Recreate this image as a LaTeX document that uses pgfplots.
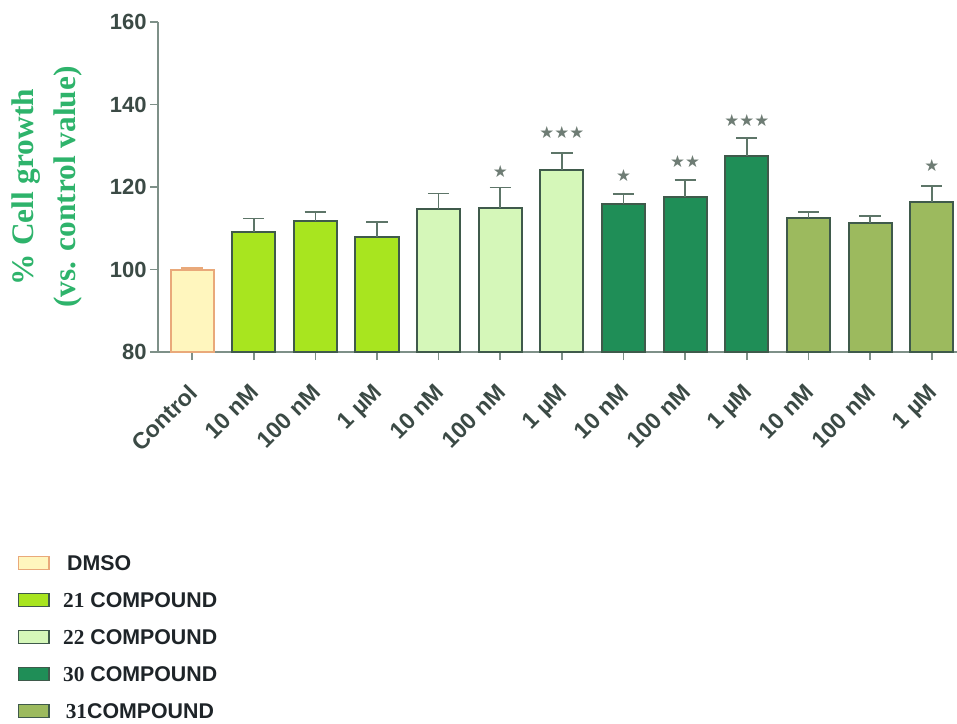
\documentclass[border=0pt]{standalone}
\usepackage{pgfplots}
\pgfplotsset{compat=1.18}
\usepackage{fontspec}
\setmainfont{Liberation Sans}
\newfontfamily\tnr{Liberation Serif}
\newfontfamily\dejavu{DejaVu Sans}

\definecolor{axisgray}{HTML}{7E9088}
\definecolor{ticktext}{HTML}{3B4A45}
\definecolor{edge}{HTML}{3F5A4B}
\definecolor{errcol}{HTML}{5D7568}
\definecolor{dmsofill}{HTML}{FFF6BE}
\definecolor{dmsoedge}{HTML}{E9A97A}
\definecolor{cA}{HTML}{A8E51F}
\definecolor{cB}{HTML}{D5F7B9}
\definecolor{cC}{HTML}{1F8E57}
\definecolor{cD}{HTML}{9CBA5E}
\definecolor{labgreen}{HTML}{2EB36B}
\definecolor{stargray}{HTML}{6E7C74}
\definecolor{legtext}{HTML}{1E2428}

\pgfplotsset{
  barstyle/.style={
    ybar, bar width=0.7, bar shift=0pt, line width=1.5pt,
    error bars/y dir=plus, error bars/y explicit,
    error bars/error bar style={line width=1.2pt, color=#1},
    error bars/error mark options={rotate=90, mark size=8pt, line width=1.2pt, color=#1},
  },
  boxlegend/.style={
    legend image code/.code={\draw[##1, line width=1.1pt] (0pt,-4.8pt) rectangle (23pt,4.8pt);}
  },
}

\begin{document}
\begin{tikzpicture}
\begin{axis}[
  scale only axis,
  width=599.25pt, height=247.5pt,
  xmin=-0.553, xmax=12.41,
  ymin=80, ymax=160,
  ytick={80,100,...,160},
  xtick={0,...,12},
  xticklabels={Control,10 nM,100 nM,1 µM,10 nM,100 nM,1 µM,10 nM,100 nM,1 µM,10 nM,100 nM,1 µM},
  axis lines=left,
  axis line style={-, color=axisgray, line width=1.3pt},
  tick style={color=axisgray, line width=1.2pt},
  tick align=outside,
  major tick length=6pt,
  /pgf/number format/assume math mode=true,
  yticklabel style={font=\bfseries\fontsize{16.5}{16.5}\selectfont, color=ticktext, xshift=1pt},
  xticklabel style={rotate=45, anchor=north east, font=\bfseries\fontsize{17.3}{17.3}\selectfont, color=ticktext, xshift=-11pt, yshift=-6pt},
  ylabel={\% Cell growth\\(vs. control value)},
  ylabel style={at={(axis description cs:-0.139,0.5)}, anchor=center, align=center,
    font=\tnr\bfseries\fontsize{23.5}{31}\selectfont, color=labgreen},
  clip=false,
  legend style={draw=none, fill=none, at={(axis description cs:-0.176,-0.615)}, anchor=north west,
    inner sep=0pt, row sep=16.3pt, font=\bfseries\fontsize{16}{16}\selectfont, text=legtext,
    cells={anchor=west}, nodes={inner sep=0pt, text height=11.5pt, text depth=0pt}},
  legend cell align=left,
]
% DMSO control
\addplot[barstyle=dmsoedge, boxlegend, fill=dmsofill, draw=dmsoedge]
  coordinates {(0,100) +- (0,0.3)};
\addlegendentry{\hspace{13pt}DMSO}
% compound 21
\addplot[barstyle=errcol, boxlegend, fill=cA, draw=edge]
  coordinates {(1,109.1) +- (0,3.3) (2,111.7) +- (0,2.3) (3,107.9) +- (0,3.6)};
\addlegendentry{\hspace{10pt}{\tnr 21} COMPOUND}
% compound 22
\addplot[barstyle=errcol, boxlegend, fill=cB, draw=edge]
  coordinates {(4,114.6) +- (0,3.8) (5,115.0) +- (0,4.9) (6,124.1) +- (0,4.1)};
\addlegendentry{\hspace{10pt}{\tnr 22} COMPOUND}
% compound 30
\addplot[barstyle=errcol, boxlegend, fill=cC, draw=edge]
  coordinates {(7,115.8) +- (0,2.5) (8,117.6) +- (0,4.1) (9,127.5) +- (0,4.4)};
\addlegendentry{\hspace{10pt}{\tnr 30} COMPOUND}
% compound 31
\addplot[barstyle=errcol, boxlegend, fill=cD, draw=edge]
  coordinates {(10,112.5) +- (0,1.5) (11,111.2) +- (0,1.8) (12,116.3) +- (0,4.0)};
\addlegendentry{\hspace{12pt}{\tnr 31}COMPOUND}
% significance marks
\addplot[forget plot, only marks, mark=none, point meta=explicit symbolic,
  nodes near coords, nodes near coords align={center},
  every node near coord/.append style={anchor=center, inner sep=0pt,
    font=\dejavu\fontsize{12.5}{12.5}\selectfont, color=stargray}]
  coordinates {(5,123.7)[★] (6,133.1)[★★★] (7,122.9)[★] (8,126.1)[★★] (9,136.2)[★★★] (12,125.3)[★]};
\coordinate (sw) at (rel axis cs:0,0);
\end{axis}
\pgfresetboundingbox
\path[use as bounding box] (sw) ++(-118.5pt,-279pt) rectangle ++(717.75pt,543pt);
\end{tikzpicture}
\end{document}
